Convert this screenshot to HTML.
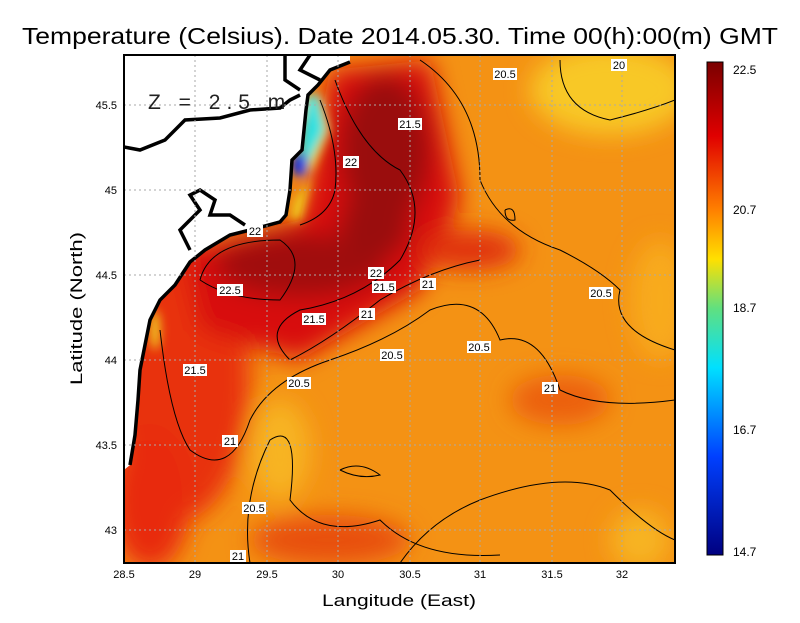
<!DOCTYPE html>
<html><head><style>
body{margin:0;background:#fff;width:800px;height:618px;overflow:hidden;font-family:"Liberation Sans",sans-serif}
</style></head><body>
<svg width="800" height="618" xmlns="http://www.w3.org/2000/svg" font-family="Liberation Sans, sans-serif">
<defs>
<filter id="b" x="-50%" y="-50%" width="200%" height="200%"><feGaussianBlur stdDeviation="12"/></filter>
<filter id="b2" x="-50%" y="-50%" width="200%" height="200%"><feGaussianBlur stdDeviation="5"/></filter>
<clipPath id="c"><rect x="124" y="55" width="551" height="508"/></clipPath>
<linearGradient id="cb" x1="0" y1="0" x2="0" y2="1">
<stop offset="0" stop-color="#7a0000"/><stop offset="0.15" stop-color="#e00000"/>
<stop offset="0.3" stop-color="#ff8000"/><stop offset="0.4" stop-color="#ffe000"/>
<stop offset="0.5" stop-color="#60e080"/><stop offset="0.62" stop-color="#00e0ff"/>
<stop offset="0.8" stop-color="#0040ff"/><stop offset="1" stop-color="#000080"/>
</linearGradient>
</defs>
<text x="22" y="44" font-size="23" textLength="756" lengthAdjust="spacingAndGlyphs">Temperature (Celsius). Date 2014.05.30. Time 00(h):00(m) GMT</text>
<g clip-path="url(#c)">
<rect x="124" y="55" width="551" height="508" fill="#f49214"/>
<g filter="url(#b)">
<ellipse cx="610" cy="90" rx="80" ry="45" fill="#f8c828"/>
<ellipse cx="660" cy="300" rx="30" ry="60" fill="#f8aa1a"/>
<ellipse cx="280" cy="450" rx="30" ry="50" fill="#f7b420"/>
<ellipse cx="640" cy="540" rx="30" ry="30" fill="#f7b420"/>
<ellipse cx="560" cy="400" rx="50" ry="25" fill="#ec6010"/>
<ellipse cx="180" cy="380" rx="70" ry="140" fill="#e83008"/>
<ellipse cx="150" cy="500" rx="40" ry="70" fill="#e82a08"/>
<ellipse cx="330" cy="540" rx="80" ry="25" fill="#e85010"/>
<path d="M330 70 L430 60 L460 200 L420 290 L300 360 L200 330 L180 250 L300 220 Z" fill="#d81008"/>
<ellipse cx="385" cy="150" rx="45" ry="75" fill="#9a0808"/>
<ellipse cx="300" cy="265" rx="85" ry="32" fill="#a00808"/>
<ellipse cx="375" cy="225" rx="35" ry="35" fill="#9a0808"/>
<ellipse cx="470" cy="250" rx="50" ry="20" fill="#e03008"/>
</g>
<g filter="url(#b2)">
<path d="M300 100 L320 95 L330 130 L310 175 L295 200 L290 220 L300 220 L310 180 Z" fill="#f0e020"/>
<path d="M308 95 L318 95 L325 130 L310 160 L300 165 L302 130 Z" fill="#30e0e0"/>
<ellipse cx="300" cy="165" rx="8" ry="12" fill="#1030e0"/>
<ellipse cx="155" cy="330" rx="5" ry="20" fill="#f0d020"/>
</g>
<path d="M124 55 L350 55 L350 62 L330 70 L318 85 L308 95 L306 110 L302 150 L292 160 L290 190 L286 215 L280 222 L250 230 L230 235 L205 250 L190 262 L175 285 L160 300 L150 320 L145 345 L140 370 L138 400 L135 435 L130 465 L124 470 Z" fill="#fff"/>
<g fill="none" stroke="#000" stroke-width="3.5">
<path d="M350 62 L330 70 L318 85 L308 95 L306 110 L302 150 L292 160 L290 190 L286 215 L280 222 L250 230 L230 235 L205 250 L190 262 L175 285 L160 300 L150 320 L145 345 L140 370 L138 400 L135 435 L130 465"/>
<path d="M124 147 L140 150 L165 140 L185 120 L220 118 L250 110 L280 108 L290 100 L300 95"/>
<path d="M285 55 L285 80 L300 90 M310 55 L300 70 L320 80"/>
<path d="M190 250 L180 230 L200 210 L190 195 L200 190 L215 200 L210 215 L230 215 L245 225"/>
</g>
<g fill="none" stroke="#000" stroke-width="1">
<path d="M320 100 Q340 150 335 190 Q330 215 300 225"/>
<path d="M335 80 Q360 150 400 170 Q430 210 400 260 Q360 300 300 310 Q260 330 290 360 Q330 340 380 300 Q430 270 480 260"/>
<path d="M200 280 Q210 240 280 240 Q310 260 280 300 Q230 300 200 280"/>
<path d="M160 330 Q170 420 190 450 Q230 480 250 420 Q270 380 330 360 Q390 340 430 310 Q480 290 500 340 Q540 330 560 390 Q600 410 675 400"/>
<path d="M250 563 Q240 500 270 440 Q300 420 290 500 Q320 540 380 520 Q420 560 500 555"/>
<path d="M420 60 Q480 100 480 180 Q500 230 560 250 Q600 270 620 290 Q610 330 675 350"/>
<path d="M560 60 Q560 110 610 120 Q650 110 675 100"/>
<path d="M400 563 Q430 520 480 500 Q560 470 610 490 Q650 530 675 540"/>
<path d="M340 470 Q360 460 380 475 Q360 480 340 470"/>
<path d="M505 210 Q515 205 515 220 Q505 222 505 210"/>
</g>
</g>
<g stroke="#aaa" stroke-width="1" stroke-dasharray="2,3">
<path d="M195 55V563M267 55V563M338 55V563M410 55V563M480 55V563M552 55V563M622 55V563M124 105H675M124 190H675M124 275H675M124 360H675M124 445H675M124 530H675"/>
</g>
<rect x="124" y="55" width="551" height="508" fill="none" stroke="#000" stroke-width="2"/>
<text x="148" y="109" font-size="21" letter-spacing="6" fill="#222">Z = 2.5 m</text>
<g font-size="11" text-anchor="middle">
<g fill="#fff"><rect x="493" y="68" width="24" height="12"/><rect x="398" y="118" width="24" height="12"/><rect x="343" y="156" width="16" height="12"/><rect x="247" y="225" width="16" height="12"/><rect x="368" y="267" width="16" height="12"/><rect x="372" y="281" width="24" height="12"/><rect x="420" y="278" width="16" height="12"/><rect x="217" y="284" width="26" height="12"/><rect x="302" y="313" width="24" height="12"/><rect x="359" y="308" width="16" height="12"/><rect x="380" y="349" width="24" height="12"/><rect x="467" y="341" width="24" height="12"/><rect x="589" y="287" width="24" height="12"/><rect x="183" y="364" width="24" height="12"/><rect x="287" y="377" width="24" height="12"/><rect x="542" y="382" width="16" height="12"/><rect x="222" y="435" width="16" height="12"/><rect x="242" y="502" width="24" height="12"/><rect x="230" y="550" width="16" height="12"/><rect x="611" y="59" width="16" height="12"/></g>
<text x="505" y="78">20.5</text><text x="410" y="128">21.5</text><text x="351" y="166">22</text><text x="255" y="235">22</text><text x="376" y="277">22</text><text x="384" y="291">21.5</text><text x="428" y="288">21</text><text x="230" y="294">22.5</text><text x="314" y="323">21.5</text><text x="367" y="318">21</text><text x="392" y="359">20.5</text><text x="479" y="351">20.5</text><text x="601" y="297">20.5</text><text x="195" y="374">21.5</text><text x="299" y="387">20.5</text><text x="550" y="392">21</text><text x="230" y="445">21</text><text x="254" y="512">20.5</text><text x="238" y="560">21</text><text x="619" y="69">20</text>
</g>
<g font-size="11" text-anchor="middle">
<text x="124" y="578">28.5</text><text x="195" y="578">29</text><text x="267" y="578">29.5</text><text x="338" y="578">30</text><text x="410" y="578">30.5</text><text x="480" y="578">31</text><text x="552" y="578">31.5</text><text x="622" y="578">32</text>
</g>
<g font-size="11" text-anchor="end">
<text x="117" y="109">45.5</text><text x="117" y="194">45</text><text x="117" y="279">44.5</text><text x="117" y="364">44</text><text x="117" y="449">43.5</text><text x="117" y="534">43</text>
</g>
<text x="322" y="606" font-size="17" textLength="154" lengthAdjust="spacingAndGlyphs">Langitude (East)</text>
<text transform="translate(82,385) rotate(-90)" font-size="17" textLength="153" lengthAdjust="spacingAndGlyphs">Latitude (North)</text>
<rect x="707" y="62" width="16" height="493" fill="url(#cb)" stroke="#000"/>
<g font-size="12"><text x="733" y="74">22.5</text><text x="733" y="214">20.7</text><text x="733" y="312">18.7</text><text x="733" y="434">16.7</text><text x="733" y="556">14.7</text></g>
</svg>
</body></html>
